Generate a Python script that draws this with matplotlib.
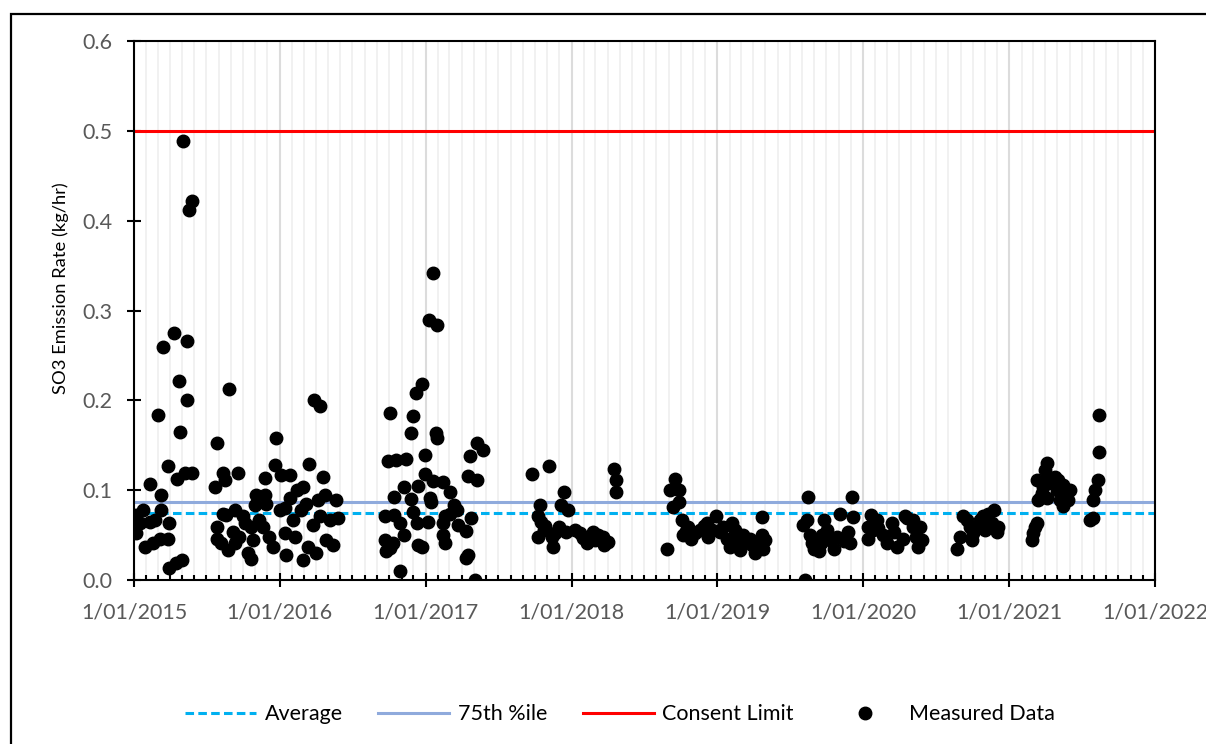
import pandas as pd
import matplotlib.pyplot as plt
import matplotlib.dates as mdates
from matplotlib.patches import Rectangle
from matplotlib.ticker import FuncFormatter, MultipleLocator

plt.rcParams['font.family'] = ['Lato', 'DejaVu Sans']

# sampling campaign 1 : Jan 2015 - May 2016
dates_1 = ['2015-01-07', '2015-01-07', '2015-01-15', '2015-01-23', '2015-01-28', '2015-02-09', '2015-02-09',
           '2015-02-17', '2015-02-22', '2015-03-02', '2015-03-06', '2015-03-10', '2015-03-10', '2015-03-14',
           '2015-03-27', '2015-03-27', '2015-03-29', '2015-03-29', '2015-04-11', '2015-04-15', '2015-04-18',
           '2015-04-23', '2015-04-27', '2015-05-02', '2015-05-03', '2015-05-08', '2015-05-13', '2015-05-13',
           '2015-05-18', '2015-05-27', '2015-05-27', '2015-07-23', '2015-07-28', '2015-07-27', '2015-07-27',
           '2015-08-07', '2015-08-11', '2015-08-11', '2015-08-18', '2015-08-19', '2015-08-24', '2015-08-26',
           '2015-09-05', '2015-09-10', '2015-09-10', '2015-09-18', '2015-09-22', '2015-09-30', '2015-10-05',
           '2015-10-13', '2015-10-20', '2015-10-21', '2015-10-26', '2015-10-30', '2015-11-03', '2015-11-10',
           '2015-11-20', '2015-11-24', '2015-11-24', '2015-11-28', '2015-12-06', '2015-12-15', '2015-12-19',
           '2015-12-23', '2016-01-01', '2016-01-05', '2016-01-13', '2016-01-13', '2016-01-17', '2016-01-26',
           '2016-01-26', '2016-02-03', '2016-02-08', '2016-02-12', '2016-02-24', '2016-02-28', '2016-02-28',
           '2016-03-07', '2016-03-12', '2016-03-14', '2016-03-24', '2016-03-28', '2016-04-02', '2016-04-06',
           '2016-04-10', '2016-04-11', '2016-04-19', '2016-04-23', '2016-04-27', '2016-05-05', '2016-05-14',
           '2016-05-22', '2016-05-26']
so3_1 = [0.072, 0.052, 0.063, 0.078, 0.037, 0.107, 0.065,
         0.041, 0.067, 0.184, 0.046, 0.095, 0.078, 0.259,
         0.127, 0.046, 0.063, 0.013, 0.275, 0.019, 0.112,
         0.222, 0.165, 0.022, 0.489, 0.119, 0.266, 0.200,
         0.412, 0.422, 0.119, 0.103, 0.152, 0.059, 0.046,
         0.041, 0.119, 0.074, 0.111, 0.072, 0.033, 0.213,
         0.054, 0.078, 0.041, 0.119, 0.048, 0.071, 0.063,
         0.030, 0.023, 0.059, 0.045, 0.084, 0.095, 0.067,
         0.059, 0.114, 0.095, 0.085, 0.048, 0.037, 0.128,
         0.158, 0.078, 0.117, 0.052, 0.080, 0.028, 0.117,
         0.091, 0.067, 0.048, 0.100, 0.078, 0.104, 0.022,
         0.085, 0.037, 0.129, 0.061, 0.200, 0.030, 0.089,
         0.071, 0.194, 0.115, 0.095, 0.045, 0.067, 0.039,
         0.089, 0.069]

# campaign 2 : Sep 2016 - May 2017
dates_2 = ['2016-09-20', '2016-09-21', '2016-09-22', '2016-09-28', '2016-10-03', '2016-10-03', '2016-10-10',
           '2016-10-13', '2016-10-14', '2016-10-19', '2016-10-29', '2016-10-29', '2016-11-06', '2016-11-06',
           '2016-11-11', '2016-11-24', '2016-11-24', '2016-11-30', '2016-11-30', '2016-12-07', '2016-12-11',
           '2016-12-13', '2016-12-13', '2016-12-23', '2016-12-23', '2016-12-30', '2016-12-30', '2017-01-07',
           '2017-01-09', '2017-01-11', '2017-01-15', '2017-01-18', '2017-01-20', '2017-01-26', '2017-01-28',
           '2017-01-30', '2017-02-12', '2017-02-14', '2017-02-14', '2017-02-18', '2017-02-18', '2017-03-02',
           '2017-03-02', '2017-03-13', '2017-03-19', '2017-03-23', '2017-04-11', '2017-04-12', '2017-04-16',
           '2017-04-17', '2017-04-21', '2017-04-25', '2017-05-04', '2017-05-08', '2017-05-08', '2017-05-25']
so3_2 = [0.045, 0.071, 0.032, 0.133, 0.186, 0.036, 0.041,
         0.092, 0.072, 0.134, 0.063, 0.010, 0.103, 0.050,
         0.135, 0.164, 0.090, 0.183, 0.076, 0.208, 0.063,
         0.105, 0.039, 0.218, 0.037, 0.139, 0.118, 0.065,
         0.289, 0.091, 0.087, 0.342, 0.110, 0.164, 0.284,
         0.158, 0.109, 0.064, 0.050, 0.071, 0.041, 0.098,
         0.074, 0.084, 0.078, 0.061, 0.055, 0.024, 0.028,
         0.116, 0.138, 0.069, 0.000, 0.153, 0.111, 0.145]

# campaign 3 : Sep 2017 - Apr 2018
dates_3 = ['2017-09-25', '2017-10-08', '2017-10-09', '2017-10-13', '2017-10-17', '2017-10-24', '2017-10-27',
           '2017-11-05', '2017-11-12', '2017-11-15', '2017-11-20', '2017-11-30', '2017-12-05', '2017-12-12',
           '2017-12-19', '2017-12-23', '2018-01-09', '2018-01-21', '2018-01-30', '2018-02-08', '2018-02-12',
           '2018-02-24', '2018-02-28', '2018-03-08', '2018-03-20', '2018-03-24', '2018-04-01', '2018-04-18',
           '2018-04-21', '2018-04-23']
so3_3 = [0.118, 0.048, 0.071, 0.084, 0.065, 0.056, 0.060,
         0.127, 0.048, 0.037, 0.052, 0.059, 0.084, 0.098,
         0.054, 0.078, 0.056, 0.052, 0.047, 0.041, 0.045,
         0.054, 0.045, 0.050, 0.048, 0.039, 0.042, 0.124,
         0.098, 0.111]

# campaign 4 : Aug 2018 - Apr 2019
dates_4 = ['2018-08-28', '2018-09-05', '2018-09-13', '2018-09-18', '2018-09-26', '2018-09-27', '2018-10-04',
           '2018-10-07', '2018-10-14', '2018-10-20', '2018-10-28', '2018-11-05', '2018-11-18', '2018-11-28',
           '2018-12-06', '2018-12-08', '2018-12-18', '2018-12-28', '2019-01-08', '2019-01-16', '2019-01-24',
           '2019-02-02', '2019-02-06', '2019-02-14', '2019-02-22', '2019-02-27', '2019-03-07', '2019-03-16',
           '2019-03-24', '2019-03-29', '2019-04-05', '2019-04-09', '2019-04-19', '2019-04-22', '2019-04-22',
           '2019-04-26', '2019-04-30']
so3_4 = [0.035, 0.100, 0.081, 0.113, 0.100, 0.087, 0.067,
         0.050, 0.055, 0.059, 0.046, 0.052, 0.056, 0.060,
         0.063, 0.048, 0.056, 0.071, 0.054, 0.059, 0.046,
         0.037, 0.063, 0.056, 0.043, 0.033, 0.050, 0.043,
         0.046, 0.039, 0.030, 0.039, 0.037, 0.070, 0.050,
         0.035, 0.045]

# campaign 5 : Aug 2019 - May 2020
dates_5 = ['2019-08-04', '2019-08-08', '2019-08-13', '2019-08-15', '2019-08-21', '2019-08-26', '2019-08-30',
           '2019-09-12', '2019-09-17', '2019-09-21', '2019-09-25', '2019-10-02', '2019-10-11', '2019-10-19',
           '2019-10-27', '2019-11-04', '2019-11-13', '2019-11-25', '2019-11-28', '2019-12-05', '2019-12-06',
           '2020-01-14', '2020-01-14', '2020-01-22', '2020-01-26', '2020-02-04', '2020-02-08', '2020-02-21',
           '2020-03-01', '2020-03-14', '2020-03-18', '2020-03-26', '2020-04-09', '2020-04-15', '2020-04-21',
           '2020-05-04', '2020-05-06', '2020-05-12', '2020-05-17', '2020-05-23', '2020-05-28']
so3_5 = [0.061, 0.000, 0.067, 0.092, 0.050, 0.041, 0.035,
         0.032, 0.041, 0.050, 0.067, 0.056, 0.045, 0.035,
         0.048, 0.074, 0.043, 0.054, 0.041, 0.092, 0.070,
         0.059, 0.046, 0.072, 0.056, 0.067, 0.058, 0.050,
         0.041, 0.063, 0.054, 0.037, 0.046, 0.071, 0.069,
         0.059, 0.067, 0.048, 0.037, 0.059, 0.045]

# campaign 6 : Aug 2020 - Dec 2020
dates_6 = ['2020-08-23', '2020-08-31', '2020-09-08', '2020-09-17', '2020-09-25', '2020-09-29', '2020-10-03',
           '2020-10-11', '2020-10-20', '2020-10-28', '2020-11-01', '2020-11-09', '2020-11-18', '2020-11-24',
           '2020-12-01', '2020-12-05']
so3_6 = [0.035, 0.048, 0.071, 0.067, 0.059, 0.045, 0.052,
         0.058, 0.067, 0.071, 0.056, 0.074, 0.063, 0.078,
         0.054, 0.059]

# campaign 7 : Feb 2021 - Aug 2021
dates_7 = ['2021-02-26', '2021-03-02', '2021-03-06', '2021-03-11', '2021-03-11', '2021-03-15', '2021-03-19',
           '2021-03-23', '2021-03-27', '2021-04-01', '2021-04-05', '2021-04-05', '2021-04-09', '2021-04-17',
           '2021-04-26', '2021-04-30', '2021-05-04', '2021-05-08', '2021-05-16', '2021-05-16', '2021-05-25',
           '2021-05-29', '2021-06-02', '2021-07-23', '2021-07-29', '2021-07-30', '2021-08-04', '2021-08-11',
           '2021-08-15', '2021-08-15']
so3_7 = [0.045, 0.052, 0.059, 0.063, 0.111, 0.089, 0.091,
         0.097, 0.104, 0.122, 0.130, 0.091, 0.115, 0.108,
         0.115, 0.100, 0.111, 0.089, 0.106, 0.082, 0.100,
         0.089, 0.100, 0.067, 0.089, 0.069, 0.100, 0.111,
         0.143, 0.184]

average = 0.075
pct_75 = 0.087
consent_limit = 0.5

dates = pd.to_datetime(dates_1 + dates_2 + dates_3 + dates_4 + dates_5 + dates_6 + dates_7)
so3 = so3_1 + so3_2 + so3_3 + so3_4 + so3_5 + so3_6 + so3_7

fig = plt.figure(figsize=(12.06, 7.44), dpi=100)
ax = fig.add_axes([0.1111, 0.2204, 0.8466, 0.7245])

ax.axhline(average, color='#00B0F0', lw=2.2, dashes=(2.8, 1.4), label='Average', zorder=2)
ax.axhline(pct_75, color='#8FAADC', lw=2.2, label='75th %ile', zorder=2)
ax.axhline(consent_limit, color='#FF0000', lw=2.2, label='Consent Limit', zorder=2)
ax.plot(dates, so3, 'o', color='black', ms=9, label='Measured Data', zorder=3)

ax.set_xlim(pd.Timestamp('2015-01-01'), pd.Timestamp('2022-01-01'))
ax.xaxis.set_major_locator(mdates.YearLocator())
ax.xaxis.set_minor_locator(mdates.MonthLocator())
ax.xaxis.set_major_formatter(FuncFormatter(lambda x, pos: '1/01/%d' % mdates.num2date(x).year))
ax.set_ylim(0, 0.6)
ax.yaxis.set_major_locator(MultipleLocator(0.1))
ax.yaxis.set_major_formatter(FuncFormatter(lambda y, pos: '%.1f' % y))

ax.grid(axis='x', which='minor', color='#f0f0f0', lw=1.3)
ax.grid(axis='x', which='major', color='#dcdcdc', lw=1.5)
ax.set_axisbelow(True)

ax.tick_params(axis='x', which='major', direction='inout', length=10, width=1.5, pad=11,
               labelsize=15.5, labelcolor='#595959')
ax.tick_params(axis='x', which='minor', direction='in', length=3.6, width=1.5)
ax.tick_params(axis='y', direction='inout', length=9.5, width=1.5, pad=11,
               labelsize=15.5, labelcolor='#595959')
for s in ax.spines.values():
    s.set_linewidth(1.5)
    s.set_color('black')

ax.set_ylabel('SO3 Emission Rate (kg/hr)', fontsize=13.2, color='black')
ax.yaxis.set_label_coords(-0.064, 0.542)

fig.legend(loc='center', bbox_to_anchor=(0.514, 0.040), ncol=4, frameon=False, fontsize=15.5,
           handlelength=3.3, handletextpad=0.4, columnspacing=1.65, borderaxespad=0)

# outer chart frame
fig.add_artist(Rectangle((11 / 1206, -0.5), 2, 0.5 + 1 - 14 / 744, transform=fig.transFigure,
                         fill=False, ec='black', lw=1.6))

fig.savefig('out.png', dpi=100)
